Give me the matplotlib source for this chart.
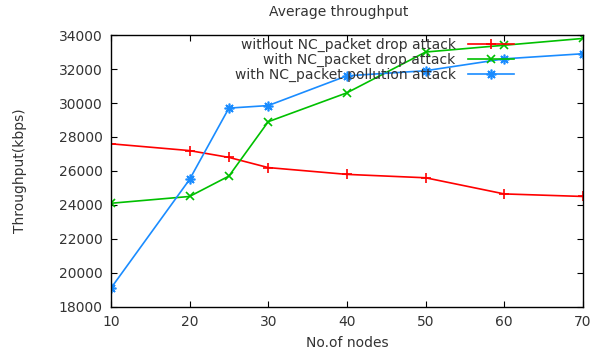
import matplotlib
matplotlib.use("Agg")
import matplotlib.pyplot as plt

# data
nodes = [10, 20, 25, 30, 40, 50, 60, 70]
no_attack = [27600, 27200, 26800, 26200, 25800, 25600, 24650, 24500]
drop_attack = [24100, 24500, 25700, 28900, 30600, 33000, 33400, 33800]
pollution_attack = [19100, 25500, 29700, 29850, 31600, 31900, 32600, 32900]

labels = ["without NC_packet drop attack",
          "with NC_packet drop attack",
          "with NC_packet pollution attack"]
x_ticks = [10, 20, 30, 40, 50, 60, 70]
y_ticks = list(range(18000, 34001, 2000))

text_color = "#333333"
fs = 10
plt.rcParams['font.family'] = ['DejaVu Sans']

fig = plt.figure(figsize=(5.93, 3.54), dpi=100)
ax = fig.add_axes([0.187, 0.133, 0.796, 0.768])

ax.plot(nodes, no_attack, color="#ff0000", lw=1.2, marker="+", ms=7, mew=1.2,
        label=labels[0])
ax.plot(nodes, drop_attack, color="#00c000", lw=1.2, marker="x", ms=6, mew=1.2,
        label=labels[1])
ax.plot(nodes, pollution_attack, color="#1a8cff", lw=1.2, marker=(8, 2, 0), ms=7,
        mew=1.2, label=labels[2])

ax.set_xlim(10, 70)
ax.set_ylim(18000, 34000)
ax.set_xticks(x_ticks)
ax.set_yticks(y_ticks)
ax.tick_params(direction="in", top=True, right=True, length=4, width=0.8,
               labelsize=fs, labelcolor=text_color, pad=6)
for s in ax.spines.values():
    s.set_linewidth(1.0)

ax.set_xlabel("No.of nodes", fontsize=fs, color=text_color, labelpad=5)
ax.set_ylabel("Throughput(kbps)", fontsize=fs, color=text_color, labelpad=23)
fig.text(339 / 593, 1 - 12 / 354, "Average throughput", ha="center", va="center",
         fontsize=fs, color=text_color)

leg = ax.legend(loc="upper right", bbox_to_anchor=(0.86, 1.0), frameon=False,
                markerfirst=False, numpoints=1, handlelength=3.3, fontsize=fs,
                labelspacing=0.05, borderaxespad=0.1, borderpad=0.1,
                handletextpad=0.9)
for t in leg.get_texts():
    t.set_color(text_color)

fig.savefig("out.png", dpi=100)
